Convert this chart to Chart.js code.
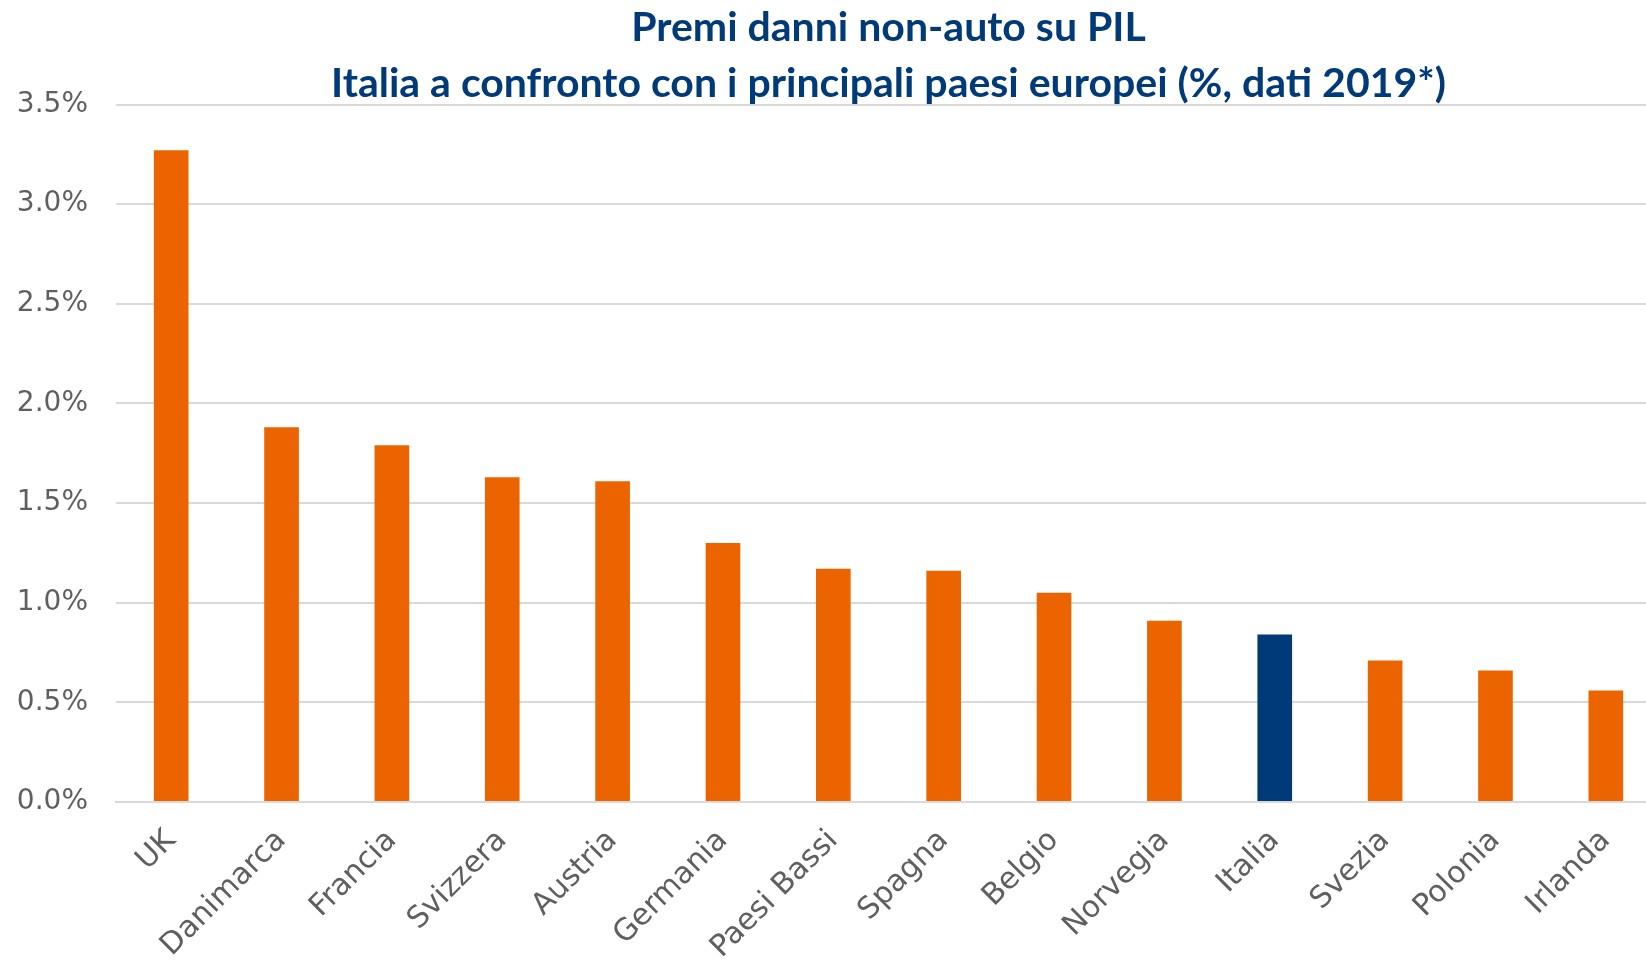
<!DOCTYPE html>
<html>
<head>
<meta charset="utf-8">
<script src="https://cdn.jsdelivr.net/npm/chart.js@4.4.0/dist/chart.umd.min.js"></script>
<style>
  html, body { margin: 0; padding: 0; background: #fff; overflow: hidden; }
</style>
</head>
<body>
<canvas id="g1" width="1661" height="967"></canvas>
<script>
// paesi e valori (premi danni non-auto / PIL, %)
var paesi = ['UK', 'Danimarca', 'Francia', 'Svizzera', 'Austria', 'Germania', 'Paesi Bassi',
             'Spagna', 'Belgio', 'Norvegia', 'Italia', 'Svezia', 'Polonia', 'Irlanda'];
var premi = [3.27, 1.88, 1.79, 1.63, 1.61, 1.30, 1.17, 1.16, 1.05, 0.91, 0.84, 0.71, 0.66, 0.56];
var yTicks = [0, 0.5, 1.0, 1.5, 2.0, 2.5, 3.0, 3.5];

var arancio = '#EC6400';
var blu = '#003A78';

var colori = paesi.map(function(p) {
    return p === 'Italia' ? blu : arancio;
});

var ctx = document.getElementById('g1');

var myChart = new Chart(ctx, {
    type: 'bar',
    data: {
        labels: paesi,
        datasets: [{
            label: 'Premi danni non-auto su PIL',
            data: premi,
            backgroundColor: colori,
            borderWidth: 0,
            barPercentage: 0.314,
            categoryPercentage: 1
        }]
    },
    options: {
        responsive: false,
        animation: false,
        layout: { padding: 0 },
        plugins: {
            legend: { display: false },
            tooltip: { enabled: false },
            title: {
                display: true,
                fullSize: false,
                text: ['Premi danni non-auto su PIL',
                       'Italia a confronto con i principali paesi europei (%, dati 2019*)'],
                color: blu,
                font: { family: 'Lato', size: 41, weight: 'bold', lineHeight: 1.36 },
                padding: { top: 0, bottom: -7 }
            }
        },
        scales: {
            x: {
                grid: { display: false, drawTicks: false },
                border: { display: true, color: '#D9D9D9', width: 2 },
                ticks: {
                    color: '#5f5f5f',
                    font: { family: 'DejaVu Sans', size: 30 },
                    minRotation: 45,
                    maxRotation: 45,
                    padding: 21
                },
                afterFit: function(scale) { scale.height = 165; }
            },
            y: {
                min: 0,
                max: 3.5,
                afterBuildTicks: function(scale) {
                    scale.ticks = yTicks.map(function(v) { return { value: v }; });
                },
                grid: { color: '#D9D9D9', lineWidth: 2, drawTicks: false },
                border: { display: false },
                ticks: {
                    color: '#5f5f5f',
                    font: { family: 'DejaVu Sans', size: 28 },
                    padding: 28,
                    callback: function(v) { return v.toFixed(1) + '%'; }
                },
                afterFit: function(scale) { scale.width = 116; }
            }
        }
    }
});
</script>
</body>
</html>
